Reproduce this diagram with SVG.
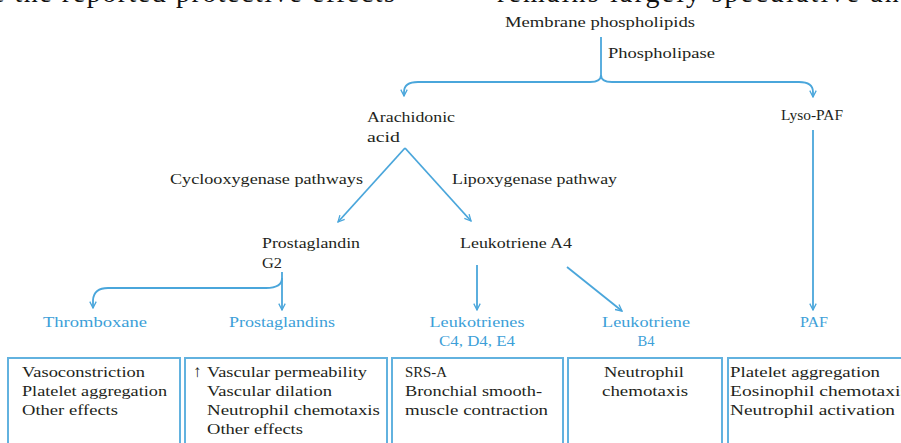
<svg xmlns="http://www.w3.org/2000/svg" width="901" height="443" viewBox="0 0 901 443">
<defs>
<style>
.t{font-family:"Liberation Serif","DejaVu Serif",serif;font-size:15.5px;fill:#231f20}
.b{font-family:"Liberation Serif","DejaVu Serif",serif;font-size:15.5px;fill:#3d9fd8}
.top{font-family:"Liberation Serif",serif;font-size:28px;fill:#111}
.c{fill:none;stroke:#4aa6db;stroke-width:1.8}
.box{fill:#fff;stroke:#62b2df;stroke-width:2}
</style>
<marker id="ah" viewBox="0 0 10 10" refX="9" refY="5" markerWidth="8" markerHeight="8" markerUnits="userSpaceOnUse" orient="auto">
<path d="M1,1 L9,5 L1,9" fill="none" stroke="#4aa6db" stroke-width="1.6"/>
</marker>
</defs>
<rect width="901" height="443" fill="#fff"/>
<g id="cut-text">
<text class="top" x="-8" y="2" textLength="403" lengthAdjust="spacing">e the reported protective effects</text>
<text class="top" x="497" y="2" textLength="418" lengthAdjust="spacing">remains largely speculative and</text>
</g>
<g id="connectors">
<path class="c" d="M601,37 V75 Q601,82 590,82 H418 Q404,82 404,92 V96" marker-end="url(#ah)"/>
<path class="c" d="M601,75 Q601,82 612,82 H799 Q813,82 813,92 V97" marker-end="url(#ah)"/>
<path class="c" d="M813,130 V310" marker-end="url(#ah)"/>
<path class="c" d="M405,148 L338,222" marker-end="url(#ah)"/>
<path class="c" d="M405,148 L471,221" marker-end="url(#ah)"/>
<path class="c" d="M282,272 V310" marker-end="url(#ah)"/>
<path class="c" d="M282,278 Q282,288 266,288 H108 Q94,288 93,300 V308" marker-end="url(#ah)"/>
<path class="c" d="M477,265 V310" marker-end="url(#ah)"/>
<path class="c" d="M567,267 L622,311" marker-end="url(#ah)"/>
<text class="t" x="608" y="58" textLength="107" lengthAdjust="spacingAndGlyphs">Phospholipase</text>
<text class="t" x="170" y="184" textLength="193" lengthAdjust="spacingAndGlyphs">Cyclooxygenase pathways</text>
<text class="t" x="452" y="184" textLength="165" lengthAdjust="spacingAndGlyphs">Lipoxygenase pathway</text>
</g>
<g id="membrane"><text class="t" x="505" y="27" textLength="190" lengthAdjust="spacingAndGlyphs">Membrane phospholipids</text></g>
<g id="arachidonic">
<text class="t" x="367" y="122" textLength="88" lengthAdjust="spacingAndGlyphs">Arachidonic</text>
<text class="t" x="367" y="142" textLength="33" lengthAdjust="spacingAndGlyphs">acid</text>
</g>
<g id="lysopaf"><text class="t" x="781" y="120" textLength="62" lengthAdjust="spacingAndGlyphs">Lyso-PAF</text></g>
<g id="pgg2">
<text class="t" x="262" y="248" textLength="98" lengthAdjust="spacingAndGlyphs">Prostaglandin</text>
<text class="t" x="262" y="268" textLength="20" lengthAdjust="spacingAndGlyphs">G2</text>
</g>
<g id="lta4"><text class="t" x="460" y="248" textLength="112" lengthAdjust="spacingAndGlyphs">Leukotriene A4</text></g>
<g id="thromboxane">
<text class="b" x="43" y="327" textLength="104" lengthAdjust="spacingAndGlyphs">Thromboxane</text>
<rect class="box" x="8" y="358" width="172" height="100"/>
<text class="t" x="22" y="377" textLength="123" lengthAdjust="spacingAndGlyphs">Vasoconstriction</text>
<text class="t" x="22" y="396" textLength="145" lengthAdjust="spacingAndGlyphs">Platelet aggregation</text>
<text class="t" x="22" y="415" textLength="96" lengthAdjust="spacingAndGlyphs">Other effects</text>
</g>
<g id="prostaglandins">
<text class="b" x="229" y="327" textLength="106" lengthAdjust="spacingAndGlyphs">Prostaglandins</text>
<rect class="box" x="185" y="358" width="202" height="100"/>
<text class="t" x="193" y="377" style="font-size:17px">↑</text>
<text class="t" x="207" y="377" textLength="160" lengthAdjust="spacingAndGlyphs">Vascular permeability</text>
<text class="t" x="207" y="396" textLength="125" lengthAdjust="spacingAndGlyphs">Vascular dilation</text>
<text class="t" x="207" y="415" textLength="173" lengthAdjust="spacingAndGlyphs">Neutrophil chemotaxis</text>
<text class="t" x="207" y="434" textLength="96" lengthAdjust="spacingAndGlyphs">Other effects</text>
</g>
<g id="leukotrienes-c4d4e4">
<text class="b" x="477" y="327" text-anchor="middle" textLength="95" lengthAdjust="spacingAndGlyphs">Leukotrienes</text>
<text class="b" x="477" y="346" text-anchor="middle" textLength="76" lengthAdjust="spacingAndGlyphs">C4, D4, E4</text>
<rect class="box" x="392" y="358" width="171" height="100"/>
<text class="t" x="405" y="377" textLength="42" lengthAdjust="spacingAndGlyphs">SRS-A</text>
<text class="t" x="405" y="396" textLength="137" lengthAdjust="spacingAndGlyphs">Bronchial smooth-</text>
<text class="t" x="405" y="415" textLength="143" lengthAdjust="spacingAndGlyphs">muscle contraction</text>
</g>
<g id="leukotriene-b4">
<text class="b" x="646" y="327" text-anchor="middle" textLength="88" lengthAdjust="spacingAndGlyphs">Leukotriene</text>
<text class="b" x="646" y="346" text-anchor="middle" textLength="17" lengthAdjust="spacingAndGlyphs">B4</text>
<rect class="box" x="568" y="358" width="154" height="100"/>
<text class="t" x="644" y="377" text-anchor="middle" textLength="80" lengthAdjust="spacingAndGlyphs">Neutrophil</text>
<text class="t" x="645" y="396" text-anchor="middle" textLength="86" lengthAdjust="spacingAndGlyphs">chemotaxis</text>
</g>
<g id="paf">
<text class="b" x="814" y="327" text-anchor="middle" textLength="28" lengthAdjust="spacingAndGlyphs">PAF</text>
<rect class="box" x="728" y="358" width="190" height="100"/>
<text class="t" x="730" y="377" textLength="150" lengthAdjust="spacingAndGlyphs">Platelet aggregation</text>
<text class="t" x="730" y="396" textLength="178" lengthAdjust="spacingAndGlyphs">Eosinophil chemotaxis</text>
<text class="t" x="730" y="415" textLength="165" lengthAdjust="spacingAndGlyphs">Neutrophil activation</text>
</g>
</svg>
